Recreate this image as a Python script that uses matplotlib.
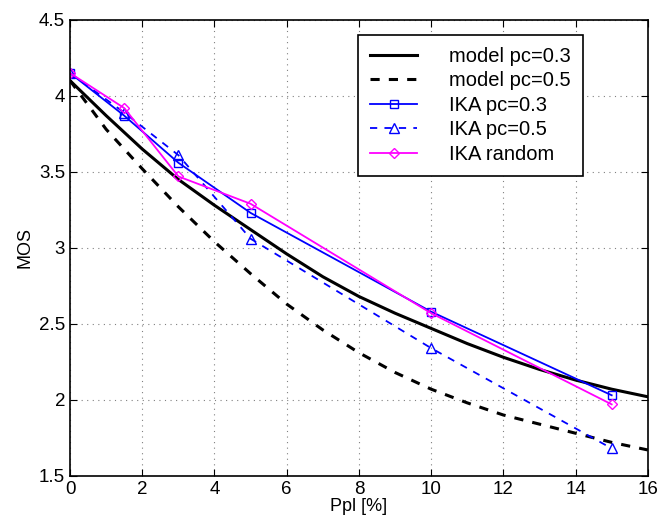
import numpy as np
import matplotlib.pyplot as plt

plt.rcParams["font.family"] = ["Liberation Sans", "DejaVu Sans"]

# model curves at integer Ppl
model_x = list(range(17))
model_03 = [4.10, 3.87, 3.65, 3.45, 3.28, 3.12, 2.96, 2.81, 2.68, 2.57,
            2.47, 2.37, 2.28, 2.20, 2.13, 2.07, 2.02]
model_05 = [4.10, 3.78, 3.52, 3.27, 3.04, 2.83, 2.63, 2.46, 2.31, 2.18,
            2.07, 1.98, 1.90, 1.84, 1.78, 1.72, 1.67]

# measured IKA points
ika_x = [0, 1.5, 3, 5, 10, 15]
ika_03 = [4.15, 3.87, 3.56, 3.23, 2.58, 2.03]
ika_05 = [4.15, 3.89, 3.61, 3.06, 2.34, 1.68]
ika_rand = [4.15, 3.92, 3.47, 3.29, 2.57, 1.97]

fig = plt.figure(figsize=(6.61, 5.24), dpi=100)
ax = fig.add_axes([0.106, 0.092, 0.874, 0.870])

ax.plot(model_x, model_03, "k-", lw=2.2, label="model pc=0.3")
ax.plot(model_x, model_05, "k--", lw=2.2, dashes=(3, 3), label="model pc=0.5")
ax.plot(ika_x, ika_03, "-", color="blue", lw=1.3, marker="s", ms=5.5,
        mfc="none", mew=1, label="IKA pc=0.3")
ax.plot(ika_x, ika_05, "--", color="blue", lw=1.3, marker="^", ms=6.5,
        mfc="none", mew=1, dashes=(4, 4), label="IKA pc=0.5")
ax.plot(ika_x, ika_rand, "-", color="magenta", lw=1.3, marker="D", ms=5.5,
        mfc="none", mew=1, label="IKA random")

ax.set_xlim(0, 16)
ax.set_ylim(1.5, 4.5)
ax.set_xticks(np.arange(0, 17, 2))
ax.set_yticks(np.arange(1.5, 4.51, 0.5))
ax.set_yticklabels(["1.5", "2", "2.5", "3", "3.5", "4", "4.5"])
ax.tick_params(direction="in", top=True, right=True, labelsize=13.5, length=5)
ax.grid(True, color="gray", linestyle=(0, (1, 4)), lw=0.8)
for s in ax.spines.values():
    s.set_linewidth(1.2)

ax.set_xlabel("Ppl [%]", fontsize=13, labelpad=0)
ax.set_ylabel("MOS", fontsize=13)

leg = ax.legend(loc="upper right", bbox_to_anchor=(0.8875, 0.967), fontsize=14.5,
                handlelength=2.3, handletextpad=1.6, labelspacing=0.27,
                fancybox=False, framealpha=1, edgecolor="black", borderpad=0.6,
                borderaxespad=0)
leg.get_frame().set_linewidth(1.2)

fig.savefig("out.png", dpi=100)
